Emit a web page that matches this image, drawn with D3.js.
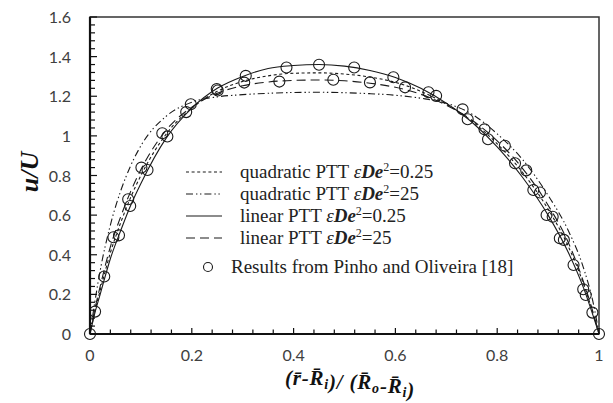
<!DOCTYPE html>
<html><head><meta charset="utf-8">
<script src="https://cdn.jsdelivr.net/npm/d3@7/dist/d3.min.js"></script>
<style>body{margin:0;background:#fff}svg{display:block}</style>
</head><body>
<svg id="chart" width="613" height="403"></svg>
<script>
// ---- data ----
const xGrid = [0,0.01,0.02,0.04,0.06,0.08,0.1,0.15,0.2,0.25,0.3,0.35,0.4,0.45,0.5,0.55,0.6,0.65,0.7,0.75,0.8,0.85,0.9,0.94,0.97,0.99,1];
const quadPTT025 = [0,0.12,0.22,0.41,0.56,0.69,0.8,1.01,1.14,1.225,1.275,1.303,1.316,1.318,1.312,1.297,1.27,1.225,1.16,1.075,0.96,0.815,0.63,0.44,0.25,0.09,0];
const quadPTT25  = [0,0.17,0.32,0.55,0.72,0.85,0.95,1.1,1.17,1.197,1.208,1.215,1.219,1.22,1.218,1.213,1.205,1.19,1.165,1.11,1.01,0.88,0.7,0.52,0.33,0.14,0];
const linPTT025  = [0,0.11,0.2,0.38,0.52,0.65,0.76,0.99,1.14,1.24,1.3,1.34,1.355,1.36,1.352,1.33,1.295,1.24,1.165,1.07,0.945,0.79,0.6,0.41,0.23,0.08,0];
const linPTT25   = [0,0.13,0.24,0.44,0.59,0.72,0.83,1.03,1.145,1.215,1.253,1.272,1.28,1.282,1.278,1.266,1.245,1.21,1.155,1.08,0.975,0.835,0.65,0.46,0.26,0.095,0];
const refX = [0,0.01,0.028,0.046,0.057,0.075,0.079,0.101,0.113,0.142,0.152,0.189,0.198,0.249,0.251,0.303,0.306,0.372,0.386,0.45,0.478,0.519,0.55,0.596,0.619,0.665,0.68,0.732,0.742,0.775,0.782,0.815,0.835,0.857,0.871,0.884,0.897,0.909,0.923,0.931,0.95,0.969,0.974,0.987,1];
const refY = [0,0.113,0.29,0.488,0.498,0.68,0.646,0.84,0.828,1.013,0.997,1.12,1.16,1.236,1.229,1.269,1.303,1.274,1.345,1.359,1.283,1.345,1.27,1.296,1.245,1.22,1.202,1.134,1.084,1.033,0.983,0.95,0.862,0.826,0.727,0.714,0.601,0.592,0.483,0.475,0.348,0.226,0.197,0.108,0];
const xTicks = [0,0.2,0.4,0.6,0.8,1];
const yTicks = [0,0.2,0.4,0.6,0.8,1,1.2,1.4,1.6];
const legendLabels = ["quadratic PTT ", "quadratic PTT ", "linear PTT ", "linear PTT "];
const legendValues = ["=0.25", "=25", "=0.25", "=25"];
const refLabel = "Results from Pinho and Oliveira [18]";

// ---- layout ----
const L = 90, R = 599, T = 17, B = 334;
const svg = d3.select("#chart");
const x = d3.scaleLinear().domain([0,1]).range([L,R]);
const y = d3.scaleLinear().domain([0,1.6]).range([B,T]);
const ink = "#1a1a1a";

const series = [
  {v: quadPTT025, dash: "3,2.6"},
  {v: quadPTT25,  dash: "7,3,1.4,2.6,1.4,3"},
  {v: linPTT025,  dash: null},
  {v: linPTT25,   dash: "9,5"}
];

// frame
svg.append("rect").attr("x",L).attr("y",T).attr("width",R-L).attr("height",B-T)
  .attr("fill","none").attr("stroke","#333").attr("stroke-width",1.5);

// curves
const line = d3.line().x((d,i)=>x(xGrid[i])).y(d=>y(d)).curve(d3.curveMonotoneX);
series.forEach(s=>{
  svg.append("path").attr("d",line(s.v)).attr("fill","none").attr("stroke",ink)
    .attr("stroke-width",1.1).attr("stroke-dasharray",s.dash);
});

// reference circles
svg.append("g").selectAll("circle").data(refX).join("circle")
  .attr("cx",d=>x(d)).attr("cy",(d,i)=>y(refY[i])).attr("r",5.5)
  .attr("fill","none").attr("stroke",ink).attr("stroke-width",1.1);

// axes lines (left, bottom thicker)
svg.append("line").attr("x1",L).attr("x2",L).attr("y1",T).attr("y2",B).attr("stroke","#111").attr("stroke-width",2.2);
svg.append("line").attr("x1",L).attr("x2",R).attr("y1",B).attr("y2",B).attr("stroke","#111").attr("stroke-width",2.2);

// ticks inward
const xMinor = d3.range(0,1.0001,0.04);
const yMinor = d3.range(0,1.6001,0.04);
const isMajor = (v)=>Math.abs(v*5-Math.round(v*5))<1e-6;
svg.append("g").selectAll("line").data(xMinor).join("line")
  .attr("x1",d=>x(d)).attr("x2",d=>x(d)).attr("y1",B).attr("y2",d=>B-(isMajor(d)?6:4.5))
  .attr("stroke","#111").attr("stroke-width",1.2);
svg.append("g").selectAll("line").data(yMinor).join("line")
  .attr("y1",d=>y(d)).attr("y2",d=>y(d)).attr("x1",L).attr("x2",d=>L+(isMajor(d)?7:5))
  .attr("stroke","#111").attr("stroke-width",1.2);

// tick labels
const tickFont = "Lato, 'Liberation Sans', sans-serif";
svg.append("g").selectAll("text").data(xTicks).join("text")
  .attr("x",d=>x(d)).attr("y",361).attr("text-anchor","middle")
  .attr("font-family",tickFont).attr("font-size",16).attr("fill","#404040")
  .text(d=>d3.format("")(d));
svg.append("g").selectAll("text").data(yTicks).join("text")
  .attr("x",71).attr("y",d=>y(d)+6).attr("text-anchor","end")
  .attr("font-family",tickFont).attr("font-size",16).attr("fill","#404040")
  .text(d=>d3.format("")(d));

// axis titles
const serif = "Liberation Serif";
const yl = svg.append("text").attr("transform","translate(38,172) rotate(-90)")
  .attr("text-anchor","middle").attr("font-family",serif).attr("font-size",26)
  .attr("font-weight","bold").attr("font-style","italic").attr("fill","#111");
yl.text("u/U");

const xl = svg.append("text").attr("x",350).attr("y",385).attr("text-anchor","middle")
  .attr("font-family",serif).attr("font-size",21).attr("font-weight","bold")
  .attr("font-style","italic").attr("letter-spacing",0.8).attr("fill","#111");
const sub = (t)=>{ xl.append("tspan").attr("font-size",14).attr("dy",4).text(t); xl.append("tspan").attr("dy",-4).text(""); };
xl.append("tspan").text("(r\u0304-R\u0304");
sub("i");
xl.append("tspan").text(")/ (R\u0304");
sub("o");
xl.append("tspan").text("-R\u0304");
sub("i");
xl.append("tspan").text(")");

// legend
const legY = [172,194,216,238];
const lg = svg.append("g");
series.forEach((s,i)=>{
  lg.append("line").attr("x1",186).attr("x2",222).attr("y1",legY[i]).attr("y2",legY[i])
    .attr("stroke",ink).attr("stroke-width",1.1).attr("stroke-dasharray",s.dash);
  const t = lg.append("text").attr("x",240).attr("y",legY[i]+6)
    .attr("font-family",serif).attr("font-size",19).attr("fill","#222");
  t.append("tspan").text(legendLabels[i]);
  t.append("tspan").attr("font-style","italic").text("\u03B5");
  t.append("tspan").attr("font-style","italic").attr("font-weight","bold").text("De");
  t.append("tspan").attr("font-size",12).attr("dy",-7).text("2");
  t.append("tspan").attr("dy",7).text(legendValues[i]);
});
lg.append("circle").attr("cx",208).attr("cy",267).attr("r",4.5).attr("fill","none").attr("stroke",ink).attr("stroke-width",1.1);
lg.append("text").attr("x",231).attr("y",273).attr("font-family",serif).attr("font-size",19)
  .attr("fill","#222").text(refLabel);
</script>
</body></html>
